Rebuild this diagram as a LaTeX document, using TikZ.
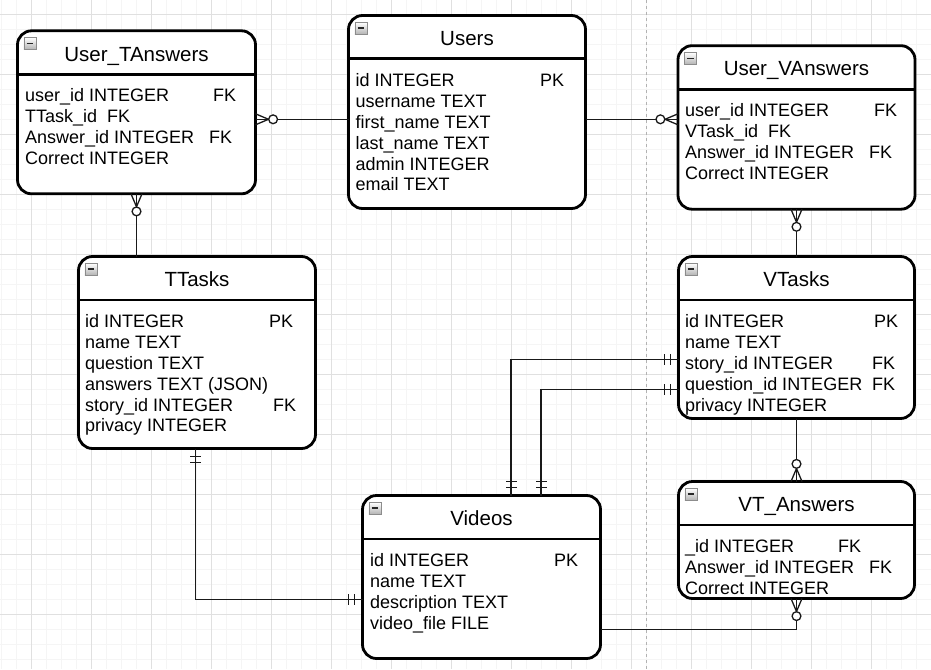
\documentclass[tikz,border=0pt]{standalone}
\usepackage{fontspec}
\setmainfont{Liberation Sans}
\usetikzlibrary{positioning}

\tikzset{
  minorgrid/.style={draw=black!4, line width=0.8pt},
  majorgrid/.style={draw=black!12, line width=0.8pt},
  pageline/.style={draw=black!30, dashed, line width=0.7pt},
  entity/.style={draw, line width=2.8pt, rounded corners=14pt, fill=white,
    inner sep=0pt, outer sep=0pt, anchor=north west},
  entityline/.style={line width=2.8pt},
  etitle/.style={anchor=base, inner sep=0pt, font=\fontsize{20.5pt}{24pt}\selectfont},
  row/.style={anchor=base west, inner sep=0pt, font=\fontsize{18pt}{21pt}\selectfont},
  erminus/.style={draw=black!45, line width=0.6pt, top color=white, bottom color=black!30,
    minimum size=12pt, inner sep=0pt, anchor=north west,
    path picture={\draw[line width=1.7pt, black!85]
      ([xshift=2.8pt]path picture bounding box.west) --
      ([xshift=-2.8pt]path picture bounding box.east);}},
  rel/.style={line width=1.3pt, black!90}
}

% zero or many, x of the scope points away from the table
\newcommand{\zmany}[2]{%
  \begin{scope}[shift={#1}, rotate=#2]
    \draw[rel] (0,5.5) -- (13,0) -- (0,-5.5);
    \draw[rel, fill=white] (17.6,0) circle (4.4pt);
  \end{scope}}
% one and only one
\newcommand{\onlyone}[2]{%
  \begin{scope}[shift={#1}, rotate=#2]
    \draw[rel] (8,5.5) -- (8,-5.5) (14,5.5) -- (14,-5.5);
  \end{scope}}

\begin{document}
\begin{tikzpicture}[x=1pt, y=-1pt]
  \fill[white] (0,0) rectangle (931,669);
  \useasboundingbox (0,0) rectangle (931,669);

  % grid
  \foreach \x in {1.7,16.7,...,931} \draw[minorgrid] (\x,0) -- (\x,669);
  \foreach \y in {-0.7,14.3,...,669} \draw[minorgrid] (0,\y) -- (931,\y);
  \foreach \x in {31.7,91.7,...,931} \draw[majorgrid] (\x,0) -- (\x,669);
  \foreach \y in {14.3,74.3,...,669} \draw[majorgrid] (0,\y) -- (931,\y);
  \draw[pageline] (646.7,0) -- (646.7,669);

  % tables
  \node[entity, minimum width=238pt, minimum height=163pt] (uta) at (17.5,30.8) {};
  \node[entity, minimum width=237pt, minimum height=193pt] (users) at (348.5,15.5) {};
  \node[entity, minimum width=237pt, minimum height=163.5pt] (uva) at (678,45.7) {};
  \node[entity, minimum width=237pt, minimum height=192pt] (ttasks) at (78.5,256.5) {};
  \node[entity, minimum width=236pt, minimum height=162pt] (vtasks) at (678.5,256.5) {};
  \node[entity, minimum width=238pt, minimum height=163pt] (videos) at (362.5,495.5) {};
  \node[entity, minimum width=236pt, minimum height=117pt] (vta) at (678.5,481.5) {};

  \foreach \tab/\name in {uta/User\_TAnswers, users/Users, uva/User\_VAnswers,
      ttasks/TTasks, vtasks/VTasks, videos/Videos, vta/VT\_Answers} {
    \draw[entityline] ([yshift=-43.4pt]\tab.north west) -- ([yshift=-43.4pt]\tab.north east);
    \node[erminus] (\tab-m) at ([xshift=6pt, yshift=-6.5pt]\tab.north west) {};
    \node[etitle] (\tab-t) at ([yshift=-30.2pt]\tab.north) {\name};
  }

  % rows
  \foreach \txt [count=\i] in {user\_id INTEGER, TTask\_id\ \ FK, Answer\_id INTEGER, Correct INTEGER}
    \node[row] (uta-\i) at ([xshift=7.5pt, yshift={-70.9pt-(\i-1)*20.9pt}]uta.north west) {\txt};
  \foreach \txt [count=\i] in {id INTEGER, username TEXT, first\_name TEXT, last\_name TEXT, admin INTEGER, email TEXT}
    \node[row] (users-\i) at ([xshift=7pt, yshift={-70.9pt-(\i-1)*20.9pt}]users.north west) {\txt};
  \foreach \txt [count=\i] in {user\_id INTEGER, VTask\_id\ \ FK, Answer\_id INTEGER, Correct INTEGER}
    \node[row] (uva-\i) at ([xshift=7pt, yshift={-70.9pt-(\i-1)*20.9pt}]uva.north west) {\txt};
  \foreach \txt [count=\i] in {id INTEGER, name TEXT, question TEXT, answers TEXT (JSON), story\_id INTEGER, privacy INTEGER}
    \node[row] (ttasks-\i) at ([xshift=6.5pt, yshift={-70.9pt-(\i-1)*20.9pt}]ttasks.north west) {\txt};
  \foreach \txt [count=\i] in {id INTEGER, name TEXT, story\_id INTEGER, question\_id INTEGER, privacy INTEGER}
    \node[row] (vtasks-\i) at ([xshift=6.5pt, yshift={-70.9pt-(\i-1)*20.9pt}]vtasks.north west) {\txt};
  \foreach \txt [count=\i] in {id INTEGER, name TEXT, description TEXT, video\_file FILE}
    \node[row] (videos-\i) at ([xshift=7.5pt, yshift={-70.9pt-(\i-1)*20.9pt}]videos.north west) {\txt};
  \foreach \txt [count=\i] in {\_id INTEGER, Answer\_id INTEGER, Correct INTEGER}
    \node[row] (vta-\i) at ([xshift=6.5pt, yshift={-70.9pt-(\i-1)*20.9pt}]vta.north west) {\txt};

  % keys
  \node[row] (users-k1) at (540,0 |- users-1.base) {PK};
  \node[row] (uta-k1) at (213,0 |- uta-1.base) {FK};
  \node[row] (uta-k3) at (209,0 |- uta-3.base) {FK};
  \node[row] (uva-k1) at (874,0 |- uva-1.base) {FK};
  \node[row] (uva-k3) at (869,0 |- uva-3.base) {FK};
  \node[row] (ttasks-k1) at (269,0 |- ttasks-1.base) {PK};
  \node[row] (ttasks-k5) at (273,0 |- ttasks-5.base) {FK};
  \node[row] (vtasks-k1) at (874,0 |- vtasks-1.base) {PK};
  \node[row] (vtasks-k3) at (872,0 |- vtasks-3.base) {FK};
  \node[row] (vtasks-k4) at (872,0 |- vtasks-4.base) {FK};
  \node[row] (videos-k1) at (554,0 |- videos-1.base) {PK};
  \node[row] (vta-k1) at (838,0 |- vta-1.base) {FK};
  \node[row] (vta-k2) at (869,0 |- vta-2.base) {FK};

  % relations
  \draw[rel] (users.west |- 0,119.3) -- (uta.east |- 0,119.3);
  \zmany{(uta.east |- 0,119.3)}{0}
  \draw[rel] (users.east |- 0,119.3) -- (uva.west |- 0,119.3);
  \zmany{(uva.west |- 0,119.3)}{180}
  \draw[rel] (uta.south) -- (uta.south |- ttasks.north);
  \zmany{(uta.south)}{-90}
  \draw[rel] (uva.south) -- (uva.south |- vtasks.north);
  \zmany{(uva.south)}{-90}
  \draw[rel] (vtasks.south) -- (vta.north);
  \zmany{(vta.north)}{90}
  \draw[rel] (videos.east |- 0,629.5) -| (vta.south);
  \zmany{(vta.south)}{-90}
  \draw[rel] (vtasks.west |- 0,359.5) -| (511,0 |- videos.north);
  \onlyone{(vtasks.west |- 0,359.5)}{180}
  \onlyone{(511,0 |- videos.north)}{90}
  \draw[rel] (vtasks.west |- 0,389.5) -| (541,0 |- videos.north);
  \onlyone{(vtasks.west |- 0,389.5)}{180}
  \onlyone{(541,0 |- videos.north)}{90}
  \draw[rel] (195.7,0 |- ttasks.south) |- (videos.west |- 0,599.5);
  \onlyone{(195.7,0 |- ttasks.south)}{-90}
  \onlyone{(videos.west |- 0,599.5)}{180}
\end{tikzpicture}
\end{document}
